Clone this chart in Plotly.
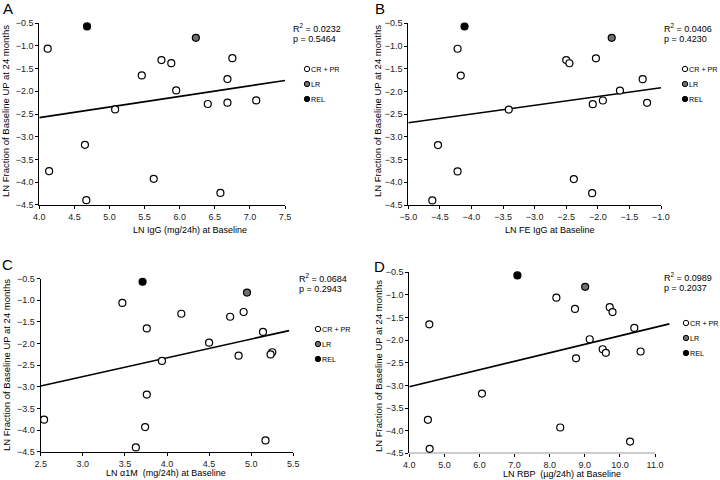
import plotly.graph_objects as go

# shared outcome (same 18 patients in every panel); first = REL, second = LR
up_24m = [-0.57, -0.82, -1.06, -1.27, -1.31, -1.38, -1.65, -1.73, -1.98,
          -2.20, -2.25, -2.28, -2.40, -3.18, -3.76, -3.93, -4.24, -4.40]
group = ["REL", "LR"] + ["CR + PR"] * 16

ln_igg = [4.68, 6.23, 4.12, 6.75, 5.74, 5.88, 5.46, 6.68, 5.95,
          7.09, 6.68, 6.40, 5.08, 4.65, 4.14, 5.63, 6.58, 4.67]
ln_fe_igg = [-4.11, -1.78, -4.22, -2.03, -2.50, -2.45, -4.17, -1.29, -1.65,
             -1.92, -1.22, -2.08, -3.41, -4.53, -4.22, -2.38, -2.09, -4.62]
ln_a1m = [3.71, 4.95, 3.47, 4.91, 4.17, 4.75, 3.76, 5.14, 4.50,
          5.25, 5.23, 4.85, 3.94, 3.76, 2.54, 3.74, 5.17, 3.63]
ln_rbp = [7.08, 9.01, 8.19, 9.71, 8.72, 9.79, 4.57, 10.41, 9.14,
          9.51, 10.59, 9.60, 8.75, 6.07, 4.53, 8.30, 10.29, 4.58]

# regression lines: (x0, x1), (y0, y1)
fit_x = {"A": [4.0, 7.5], "B": [-5.0, -1.0], "C": [2.5, 5.45], "D": [4.0, 11.41]}
fit_y = {"A": [-2.58, -1.76], "B": [-2.69, -1.92], "C": [-2.98, -1.70], "D": [-3.03, -1.64]}
r2 = {"A": "0.0232", "B": "0.0406", "C": "0.0684", "D": "0.0989"}
pval = {"A": "0.5464", "B": "0.4230", "C": "0.2943", "D": "0.2037"}

x_titles = {"A": "LN IgG (mg/24h) at Baseline", "B": "LN FE IgG at Baseline",
            "C": "LN \u03b11M  (mg/24h) at Baseline", "D": "LN RBP  (\u00b5g/24h) at Baseline"}
x_ticks = {"A": [4.0, 4.5, 5.0, 5.5, 6.0, 6.5, 7.0, 7.5],
           "B": [-5.0, -4.5, -4.0, -3.5, -3.0, -2.5, -2.0, -1.5, -1.0],
           "C": [2.5, 3.0, 3.5, 4.0, 4.5, 5.0, 5.5],
           "D": [4.0, 5.0, 6.0, 7.0, 8.0, 9.0, 10.0, 11.0]}
y_ticks = [-0.5, -1.0, -1.5, -2.0, -2.5, -3.0, -3.5, -4.0, -4.5]
y_title = "LN Fraction of Baseline UP at 24 months"
legend_groups = ["CR + PR", "LR", "REL"]

W, H = 720, 480
FONT = "Liberation Sans, Arial, sans-serif"
NARROW = "Liberation Sans Narrow, Arial Narrow, Liberation Sans, sans-serif"
colors = {"CR + PR": "white", "LR": "#6f6f6f", "REL": "black"}

# panel geometry in pixels: plot box (left, right, top, bottom)
panels = {
    "A": dict(box=(39.3, 285.0, 23.3, 204.7), xr=[4.0, 7.5], xdata=ln_igg,
              letter=(8, 8), ytitle=(6, 111), xtitle=(190, 230), stats=(291, 28), legend=(307, 69)),
    "B": dict(box=(408.3, 661.0, 23.3, 205.0), xr=[-5.0, -1.0], xdata=ln_fe_igg,
              letter=(380, 8), ytitle=(378, 111), xtitle=(550, 230), stats=(662, 28), legend=(685, 69)),
    "C": dict(box=(40.7, 293.3, 278.7, 451.7), xr=[2.5, 5.5], xdata=ln_a1m,
              letter=(7, 264), ytitle=(6, 365), xtitle=(166, 473), stats=(297, 278), legend=(318, 329)),
    "D": dict(box=(409.3, 670.8, 272.3, 453.3), xr=[4.0, 11.45], xdata=ln_rbp,
              letter=(379, 266), ytitle=(378, 366), xtitle=(562, 474), stats=(662, 277), legend=(686, 323)),
}

fig = go.Figure()
annotations = []
shapes = []


def note(text, px, py, size, family=FONT, xanchor="center", angle=0, pad=1):
    annotations.append(dict(text=text, x=px / W, y=1 - py / H, xref="paper", yref="paper",
                            xanchor=xanchor, yanchor="middle", showarrow=False, textangle=angle,
                            borderpad=pad, font=dict(size=size, family=family, color="black")))


for i, (key, p) in enumerate(panels.items()):
    n = "" if i == 0 else str(i + 1)
    xa, ya = "x" + n, "y" + n
    left, right, top, bottom = p["box"]

    fig.update_layout(**{
        "xaxis" + n: dict(
            domain=[left / W, right / W], range=p["xr"], anchor=ya, automargin=False,
            tickvals=x_ticks[key], tickformat=".1f", ticks="outside", ticklen=3,
            tickcolor="black", showline=(key != "D"), linecolor="black", linewidth=1,
            showgrid=False, zeroline=False, tickfont=dict(size=9, color="#222"),
        ),
        "yaxis" + n: dict(
            domain=[1 - bottom / H, 1 - top / H], range=[-4.5, -0.5], anchor=xa, automargin=False,
            tickvals=y_ticks, tickformat=".1f", ticks="outside", ticklen=3,
            tickcolor="black", showline=True, linecolor="black", linewidth=1,
            showgrid=False, zeroline=False, tickfont=dict(size=9, color="#222"),
        ),
    })

    if key == "D":
        # axis line stops at 11.0 while the fit line runs on past it
        shapes.append(dict(type="line", xref=xa, yref=ya, x0=4.0, x1=11.0, y0=-4.5, y1=-4.5,
                           line=dict(color="black", width=1)))

    fig.add_trace(go.Scatter(x=fit_x[key], y=fit_y[key], mode="lines", xaxis=xa, yaxis=ya,
                             line=dict(color="black", width=1.6), showlegend=False))

    for g in legend_groups:
        xs = [x for x, gg in zip(p["xdata"], group) if gg == g]
        ys = [y for y, gg in zip(up_24m, group) if gg == g]
        fig.add_trace(go.Scatter(
            x=xs, y=ys, mode="markers", xaxis=xa, yaxis=ya, cliponaxis=False, showlegend=False,
            marker=dict(size=7, color=colors[g], line=dict(color="black", width=1.2)),
        ))

    note(key, *p["letter"], 15)
    note(y_title, *p["ytitle"], 9.5, angle=-90)
    note(x_titles[key], *p["xtitle"], 9)
    sx, sy = p["stats"]
    note("R<sup>2</sup> = " + r2[key], sx, sy, 9, xanchor="left")
    note("p = " + pval[key], sx, sy + 10.5, 9, xanchor="left")

    gx, gy = p["legend"]
    for j, g in enumerate(legend_groups):
        yy = gy + j * 15
        shapes.append(dict(type="circle", xref="paper", yref="paper", xsizemode="pixel",
                           ysizemode="pixel", xanchor=gx / W, yanchor=1 - yy / H,
                           x0=-2.7, x1=2.7, y0=-2.7, y1=2.7, fillcolor=colors[g],
                           line=dict(color="black", width=1)))
        note(g, gx + 3.3, yy, 7.2, family=NARROW, xanchor="left", pad=0)

fig.update_layout(
    width=W, height=H, margin=dict(l=0, r=0, t=0, b=0, pad=0),
    paper_bgcolor="white", plot_bgcolor="white",
    font=dict(family=FONT, color="black"),
    annotations=annotations, shapes=shapes, showlegend=False,
)

# drop the browser's default 8px body margin so the figure fills the window
fig.write_html("out.html", config={"displayModeBar": False},
               post_script="document.body.style.margin='0px';")
